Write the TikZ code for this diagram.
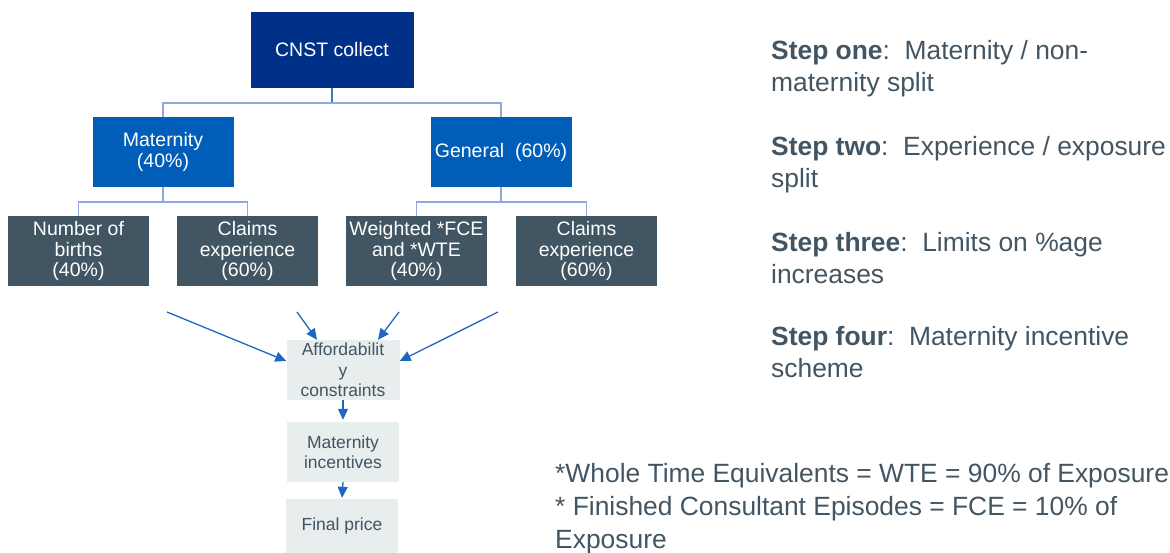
\documentclass[tikz,border=0pt]{standalone}
\usepackage{fontspec}
\setmainfont{Liberation Sans}
\usetikzlibrary{arrows.meta}
\definecolor{navy}{HTML}{003087}
\definecolor{nhsblue}{HTML}{005EB8}
\definecolor{slate}{HTML}{425563}
\definecolor{pale}{HTML}{E8EDEE}
\definecolor{linkblue}{HTML}{8EAADB}
\definecolor{stemblue}{HTML}{4A72C4}
\definecolor{arrowblue}{HTML}{1F66C1}
\begin{document}
\begin{tikzpicture}[x=1pt,y=-1pt,
  box/.style={rectangle, inner sep=0pt, align=center, font=\fontsize{19.5}{20.5}\selectfont},
  topbox/.style={box, fill=navy, text=white, minimum width=163pt, minimum height=76pt},
  midbox/.style={box, fill=nhsblue, text=white, minimum width=141pt, minimum height=70pt},
  leafbox/.style={box, fill=slate, text=white, minimum width=141pt, minimum height=70pt},
  flowbox/.style={box, fill=pale, text=slate, minimum width=113pt, minimum height=60pt,
    font=\fontsize{17.5}{20.5}\selectfont},
  conn/.style={draw=linkblue, line width=1.8pt},
  stemline/.style={draw=stemblue, line width=1.8pt},
  arr/.style={draw=arrowblue, line width=1.3pt, -{Triangle[length=11pt,width=10pt]}},
  note/.style={inner sep=0pt, anchor=north west, align=left, text=slate,
    font=\fontsize{26.4}{32}\selectfont},
]
\useasboundingbox (0,0) rectangle (1170,553);

% hierarchy
\node[topbox] (cnst) at (332,50) {CNST collect};
\node[midbox] (mat) at (163,152) {Maternity\\(40\%)};
\node[midbox] (gen) at (501,152) {General\ \ (60\%)};
\node[leafbox] (nb) at (78.5,251) {Number of\\births\\(40\%)};
\node[leafbox] (ce1) at (247.5,251) {Claims\\experience\\(60\%)};
\node[leafbox] (wt) at (416.5,251) {Weighted *FCE\\and *WTE\\(40\%)};
\node[leafbox] (ce2) at (586.5,251) {Claims\\experience\\(60\%)};

\draw[stemline] (cnst.south) -- ++(0,15) coordinate (j0);
\draw[conn] (j0) -| (mat.north);
\draw[conn] (j0) -| (gen.north);
\draw[conn] (mat.south) -- ++(0,15) coordinate (j1);
\draw[conn] (j1) -| (nb.north);
\draw[conn] (j1) -| (ce1.north);
\draw[conn] (gen.south) -- ++(0,15) coordinate (j2);
\draw[conn] (j2) -| (wt.north);
\draw[conn] (j2) -| (ce2.north);

% pricing flow
\node[flowbox] (aff) at (343,370) {Affordabilit\\y\\constraints};
\node[flowbox, minimum width=112pt] (inc) at (343,452) {Maternity\\incentives};
\node[flowbox, minimum width=112pt, minimum height=54pt] (fin) at (342,526) {Final price};

\coordinate (a1) at (167,312);
\coordinate (a2) at (297,312);
\coordinate (a3) at (399,312);
\coordinate (a4) at (498,312);
\draw[arr] (a1) -- ([yshift=9pt]aff.west);
\draw[arr] (a2) -- ([xshift=-26pt]aff.north);
\draw[arr] (a3) -- ([xshift=35pt]aff.north);
\draw[arr] (a4) -- ([yshift=9pt]aff.east);
\draw[arr] (aff.south) -- ([yshift=2pt]inc.north);
\draw[arr] (inc.south) -- ([yshift=1pt]fin.north);

% steps
\node[note] (s1) at (771,40) {\textbf{Step one}:\ \ Maternity / non-\\maternity split};
\node[note] (s2) at (771,136) {\textbf{Step two}:\ \ Experience / exposure\\split};
\node[note] (s3) at (771,232) {\textbf{Step three}:\ \ Limits on \%age\\increases};
\node[note] (s4) at (771,326) {\textbf{Step four}:\ \ Maternity incentive\\scheme};

% footnote
\node[note, font=\fontsize{26.4}{33}\selectfont] (fn) at (555,463)
  {*Whole Time Equivalents = WTE = 90\% of Exposure\\* Finished Consultant Episodes = FCE = 10\% of\\Exposure};
\end{tikzpicture}
\end{document}
